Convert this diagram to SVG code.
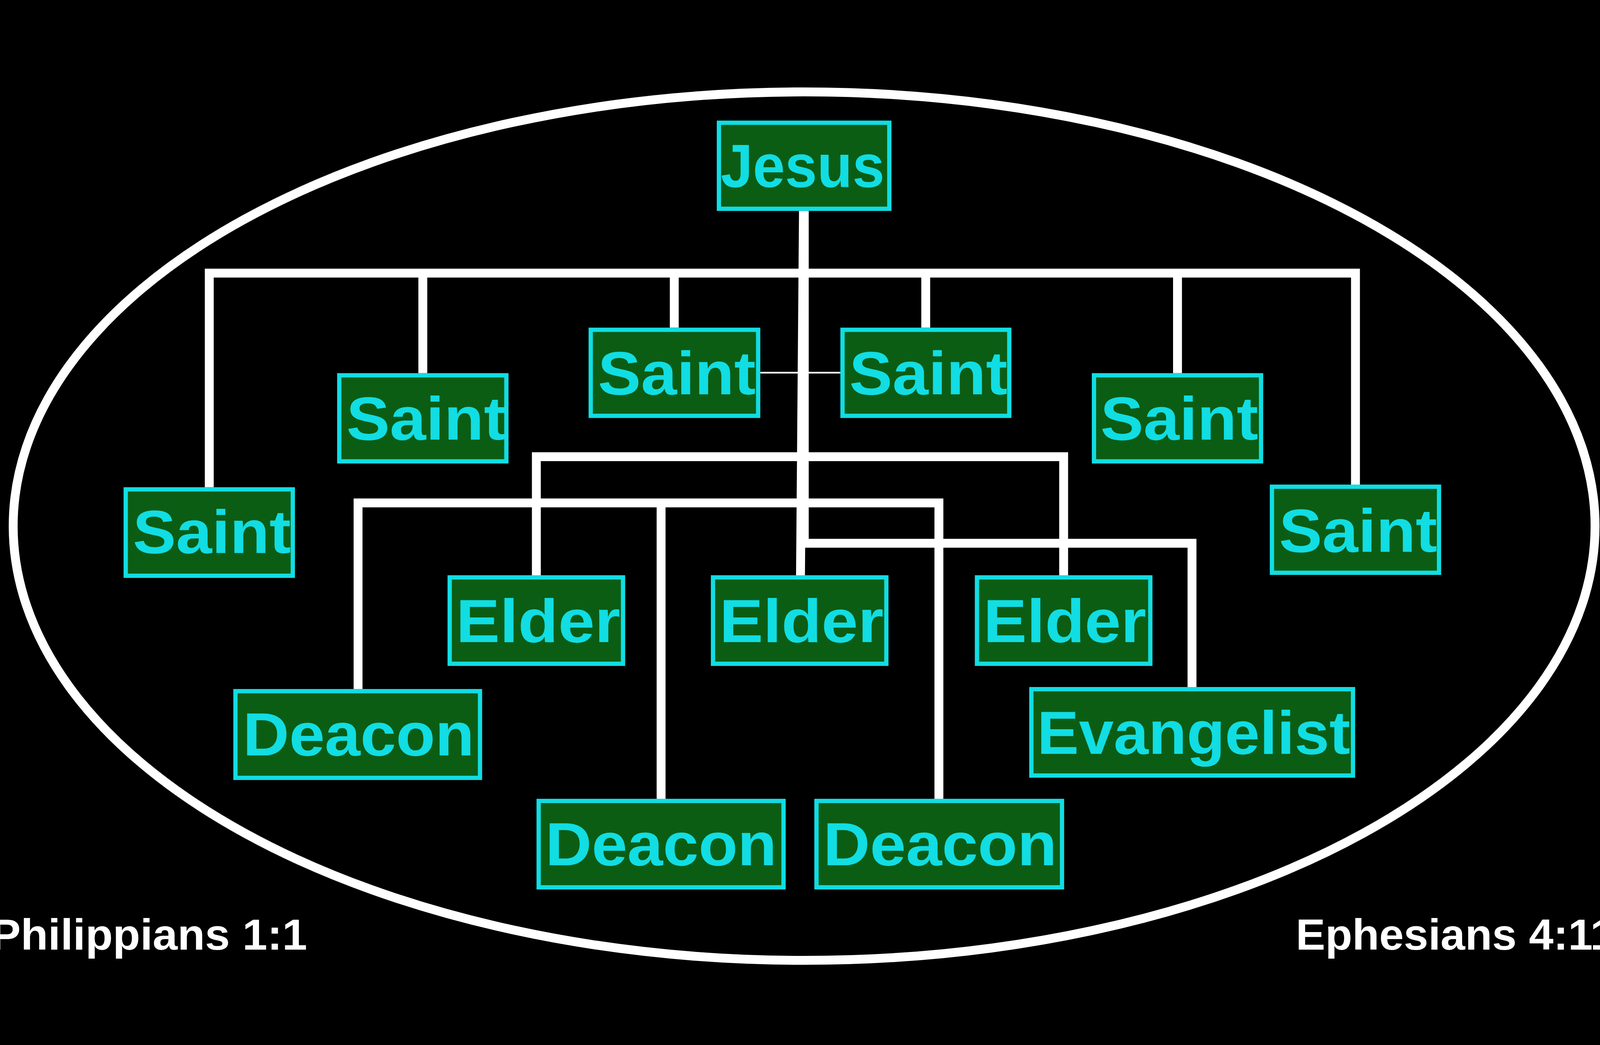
<svg xmlns="http://www.w3.org/2000/svg" width="4855" height="2674" viewBox="0 0 4855 2674" style="width:100vw;height:100vh;background:#000000" preserveAspectRatio="xMidYMid meet">
<style>
.box{fill:#0B5D14;stroke:#11DDE3;stroke-width:13}
.lbl{font-family:"Liberation Sans","Arial",sans-serif;font-weight:bold;font-size:185px;fill:#11DDE3}
.conn{fill:none;stroke:#FFFFFF;stroke-width:27;stroke-linecap:butt;stroke-linejoin:miter}
.thin{fill:none;stroke:#FFFFFF;stroke-width:5}
.ref{font-family:"Liberation Sans","Arial",sans-serif;font-weight:bold;font-size:133px;fill:#FFFFFF}
</style>
<rect x="0" y="0" width="4855" height="2674" fill="#000000"/>
<ellipse cx="2440" cy="1348" rx="2400" ry="1317" fill="none" stroke="#FFFFFF" stroke-width="27"/>
<g id="connectors">
<path class="thin" d="M2307 882.5 H2550"/>
<path class="conn" d="M635 1230 V580.5 H4113 V1222"/>
<path class="conn" d="M1283 580.5 V884"/>
<path class="conn" d="M2046 580.5 V746"/>
<path class="conn" d="M2809 580.5 V746"/>
<path class="conn" d="M3573 580.5 V884"/>
<path class="conn" d="M2440.5 392 V1400 H3617 V1836"/>
<path class="conn" d="M2438 392 L2429 1497"/>
<path class="conn" d="M1627.5 1497 V1137.5 H3227.5 V1497"/>
<path class="conn" d="M1086.5 1842 V1277.5 H2849 V2175"/>
<path class="conn" d="M2006 1277.5 V2175"/>
</g>
<g id="jesus"><rect class="box" x="2181.5" y="124.5" width="517" height="261"/><text class="lbl" x="2187" y="319" textLength="497" lengthAdjust="spacingAndGlyphs">Jesus</text></g>
<g id="saint-cl"><rect class="box" x="1792.5" y="752.5" width="508" height="261"/><text class="lbl" x="1814" y="948" textLength="479" lengthAdjust="spacingAndGlyphs">Saint</text></g>
<g id="saint-cr"><rect class="box" x="2556.5" y="752.5" width="506" height="261"/><text class="lbl" x="2577" y="948" textLength="480" lengthAdjust="spacingAndGlyphs">Saint</text></g>
<g id="saint-l2"><rect class="box" x="1029.5" y="890.5" width="507" height="261"/><text class="lbl" x="1051" y="1086" textLength="483" lengthAdjust="spacingAndGlyphs">Saint</text></g>
<g id="saint-l1"><rect class="box" x="381.5" y="1236.5" width="507" height="262"/><text class="lbl" x="403" y="1430" textLength="480" lengthAdjust="spacingAndGlyphs">Saint</text></g>
<g id="saint-r1"><rect class="box" x="3319.5" y="890.5" width="507" height="261"/><text class="lbl" x="3339" y="1086" textLength="479" lengthAdjust="spacingAndGlyphs">Saint</text></g>
<g id="saint-r2"><rect class="box" x="3859.5" y="1228.5" width="507" height="261"/><text class="lbl" x="3881" y="1426" textLength="480" lengthAdjust="spacingAndGlyphs">Saint</text></g>
<g id="elder-l"><rect class="box" x="1364.5" y="1503.5" width="526" height="262"/><text class="lbl" x="1384" y="1700" textLength="498" lengthAdjust="spacingAndGlyphs">Elder</text></g>
<g id="elder-c"><rect class="box" x="2163.5" y="1503.5" width="526" height="262"/><text class="lbl" x="2183" y="1700" textLength="498" lengthAdjust="spacingAndGlyphs">Elder</text></g>
<g id="elder-r"><rect class="box" x="2964.5" y="1503.5" width="526" height="262"/><text class="lbl" x="2984" y="1700" textLength="494" lengthAdjust="spacingAndGlyphs">Elder</text></g>
<g id="deacon-l"><rect class="box" x="714.5" y="1848.5" width="742" height="263"/><text class="lbl" x="737" y="2044" textLength="702" lengthAdjust="spacingAndGlyphs">Deacon</text></g>
<g id="evangelist"><rect class="box" x="3129.5" y="1842.5" width="976" height="262"/><text class="lbl" x="3147" y="2039" textLength="950" lengthAdjust="spacingAndGlyphs">Evangelist</text></g>
<g id="deacon-m"><rect class="box" x="1634.5" y="2181.5" width="743" height="262"/><text class="lbl" x="1655" y="2377" textLength="702" lengthAdjust="spacingAndGlyphs">Deacon</text></g>
<g id="deacon-r"><rect class="box" x="2477.5" y="2181.5" width="745" height="262"/><text class="lbl" x="2498" y="2377" textLength="709" lengthAdjust="spacingAndGlyphs">Deacon</text></g>
<g id="refs">
<text class="ref" x="-28" y="2633" textLength="960" lengthAdjust="spacingAndGlyphs">Philippians 1:1</text>
<text class="ref" x="3932" y="2633" textLength="968" lengthAdjust="spacingAndGlyphs">Ephesians 4:11</text>
</g>
</svg>
